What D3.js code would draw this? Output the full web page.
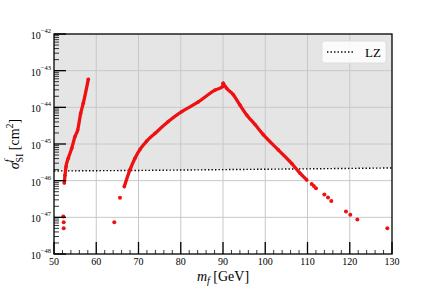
<!DOCTYPE html>
<html><head><meta charset="utf-8">
<script src="https://cdn.jsdelivr.net/npm/d3@7"></script>
<style>body{margin:0;background:#fff}svg{display:block}text{font-family:"Liberation Serif","DejaVu Serif",serif}</style>
</head><body><svg id="c" width="436" height="291"></svg>
<script>
// Continuous branches (mass in GeV, sigma in cm^2)
const leftMass  = [52.44, 52.60, 52.84, 53.38, 54.19, 54.97, 55.60, 56.32, 56.93, 58.12];
const leftSigma = [8.7e-47, 1.4e-46, 2.4e-46, 4.1e-46, 7.6e-46, 1.6e-45, 2.4e-45, 6.9e-45, 1.3e-44, 5.8e-44];
const riseMass  = [66.64, 67.99, 69.17, 70.36, 71.94, 73.91, 77.05, 80.22, 84.15, 88.11, 89.95, 90.05];
const riseSigma = [6.9e-47, 2.0e-46, 4.1e-46, 7.1e-46, 1.2e-45, 1.95e-45, 4.1e-45, 7.6e-45, 1.4e-44, 2.95e-44, 3.7e-44, 4.5e-44];
const fallMass  = [90.05, 90.87, 92.44, 94.02, 95.61, 97.57, 99.54, 103.09, 106.26, 108.22, 109.81];
const fallSigma = [4.5e-44, 3.3e-44, 2.2e-44, 1.15e-44, 6.2e-45, 3.4e-45, 1.8e-45, 6.9e-46, 2.95e-46, 1.6e-46, 1.05e-46];
// Isolated points
const dotMass  = [52.2, 52.3, 52.3, 64.27, 65.62, 110.99, 111.5, 112.01, 113.98, 114.85, 115.63, 119.11, 120.13, 121.79, 128.89];
const dotSigma = [1.05e-47, 7.4e-48, 5.0e-48, 7.4e-48, 3.4e-47, 8.1e-47, 7.1e-47, 6.2e-47, 4.2e-47, 3.5e-47, 2.8e-47, 1.45e-47, 1.17e-47, 8.7e-48, 5.0e-48];
// LZ limit
const lzMass  = [50, 70, 90, 110, 130];
const lzSigma = [1.84e-46, 1.90e-46, 2.0e-46, 2.1e-46, 2.22e-46];
const xTicks = [50, 60, 70, 80, 90, 100, 110, 120, 130];
const yExps  = [-48, -47, -46, -45, -44, -43, -42];

const svg = d3.select("#c");
const L = 54, R = 392, T = 34, B = 254;
const x = d3.scaleLinear().domain([50, 130]).range([L, R]);
const y = d3.scaleLog().domain([1e-48, 1e-42]).range([B, T]);
const red = "#ee1111";

svg.append("defs").append("clipPath").attr("id", "clip")
  .append("rect").attr("x", L).attr("y", T).attr("width", R - L).attr("height", B - T);
const g = svg.append("g").attr("clip-path", "url(#clip)");

// shaded excluded region
const area = d3.area().x((d, i) => x(lzMass[i])).y0(T).y1((d, i) => y(lzSigma[i]));
g.append("path").datum(lzMass).attr("d", area).attr("fill", "#e5e5e5");

// grid
g.selectAll(".gx").data(xTicks.slice(1, -1)).join("line")
  .attr("x1", d => x(d)).attr("x2", d => x(d)).attr("y1", T).attr("y2", B)
  .attr("stroke", "#c8c8c8").attr("stroke-width", 1);
g.selectAll(".gy").data(yExps.slice(1, -1)).join("line")
  .attr("y1", d => y(Math.pow(10, d))).attr("y2", d => y(Math.pow(10, d))).attr("x1", L).attr("x2", R)
  .attr("stroke", "#c8c8c8").attr("stroke-width", 1);

// LZ dotted line
const lzLine = d3.line().x((d, i) => x(lzMass[i])).y((d, i) => y(lzSigma[i]));
g.append("path").datum(lzMass).attr("d", lzLine).attr("fill", "none")
  .attr("stroke", "#000").attr("stroke-width", 1.4).attr("stroke-dasharray", "1.4,2.1");

// branches
function branch(ms, ss) {
  const line = d3.line().curve(d3.curveMonotoneX).x((d, i) => x(ms[i])).y((d, i) => y(ss[i]));
  g.append("path").datum(ms).attr("d", line).attr("fill", "none")
    .attr("stroke", red).attr("stroke-width", 3.3).attr("stroke-linecap", "round").attr("stroke-linejoin", "round");
  g.selectAll(null).data(ms).join("circle")
    .attr("cx", (d, i) => x(ms[i])).attr("cy", (d, i) => y(ss[i])).attr("r", 1.8).attr("fill", red);
}
branch(leftMass, leftSigma);
branch(riseMass, riseSigma);
branch(fallMass, fallSigma);
g.selectAll(".dot").data(dotMass).join("circle")
  .attr("cx", (d, i) => x(dotMass[i])).attr("cy", (d, i) => y(dotSigma[i])).attr("r", 2).attr("fill", red);

// ticks
const tk = svg.append("g").attr("stroke", "#000");
xTicks.forEach(v => tk.append("line").attr("x1", x(v)).attr("x2", x(v)).attr("y1", B).attr("y2", B - 12).attr("stroke-width", 1.3));
d3.range(52, 130, 2).filter(v => v % 10 !== 0).forEach(v =>
  tk.append("line").attr("x1", x(v)).attr("x2", x(v)).attr("y1", B).attr("y2", B - 4).attr("stroke-width", 0.8));
yExps.forEach(e => tk.append("line").attr("x1", L).attr("x2", L + 12)
  .attr("y1", y(Math.pow(10, e))).attr("y2", y(Math.pow(10, e))).attr("stroke-width", 1.3));
yExps.slice(0, -1).forEach(e => d3.range(2, 10).forEach(k => {
  const yy = y(k * Math.pow(10, e));
  tk.append("line").attr("x1", L).attr("x2", L + 5).attr("y1", yy).attr("y2", yy).attr("stroke-width", 0.8);
}));

// frame
svg.append("rect").attr("x", L).attr("y", T).attr("width", R - L).attr("height", B - T)
  .attr("fill", "none").attr("stroke", "#000").attr("stroke-width", 1.3);

// tick labels
svg.selectAll(".xl").data(xTicks).join("text")
  .attr("x", d => x(d)).attr("y", 264.5).attr("text-anchor", "middle")
  .attr("font-size", 10).text(d => d);
yExps.forEach(e => {
  const t = svg.append("text").attr("x", 51).attr("y", y(Math.pow(10, e)) + 5)
    .attr("text-anchor", "end").attr("font-size", 10);
  t.append("tspan").text("10");
  t.append("tspan").attr("font-size", 6.5).attr("dy", -6).text("\u2212" + Math.abs(e));
});

// axis labels
const xl = svg.append("text").attr("x", 223).attr("y", 281).attr("text-anchor", "middle").attr("font-size", 14);
xl.append("tspan").attr("font-style", "italic").text("m");
xl.append("tspan").attr("font-style", "italic").attr("font-size", 10).attr("dy", 3).text("f");
xl.append("tspan").attr("dy", -3).text(" [GeV]");

const yl = svg.append("text").attr("transform", "translate(19,144) rotate(-90)").attr("text-anchor", "middle").attr("font-size", 14);
yl.append("tspan").attr("font-style", "italic").text("σ");
yl.append("tspan").attr("font-style", "italic").attr("font-size", 10).attr("dy", -7).text("f");
yl.append("tspan").attr("font-size", 10).attr("dx", -3).attr("dy", 11).text("SI");
yl.append("tspan").attr("dy", -4).text(" [cm");
yl.append("tspan").attr("font-size", 10).attr("dy", -6).text("2");
yl.append("tspan").attr("dy", 6).text("]");

// legend
const lg = svg.append("g");
lg.append("rect").attr("x", 322).attr("y", 41).attr("width", 64).attr("height", 22).attr("rx", 3)
  .attr("fill", "#fff").attr("fill-opacity", 0.85).attr("stroke", "#dcdcdc").attr("stroke-width", 0.8);
lg.append("line").attr("x1", 327).attr("x2", 353).attr("y1", 52).attr("y2", 52)
  .attr("stroke", "#000").attr("stroke-width", 1.4).attr("stroke-dasharray", "1.4,2.1");
lg.append("text").attr("x", 365).attr("y", 57).attr("font-size", 13).text("LZ");
</script></body></html>
